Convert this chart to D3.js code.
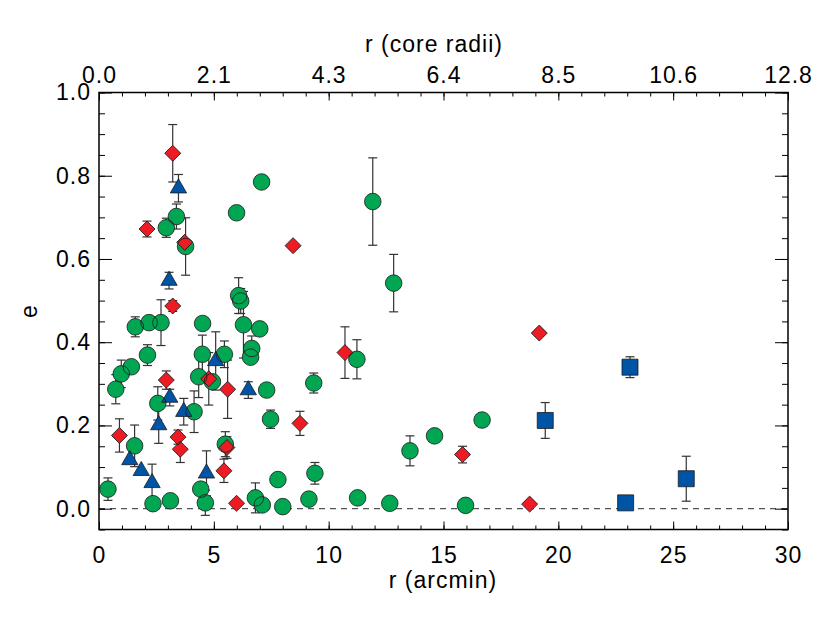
<!DOCTYPE html>
<html>
<head>
<meta charset="utf-8">
<script src="https://cdn.jsdelivr.net/npm/d3@7/dist/d3.min.js"></script>
<style>
  body { margin: 0; background: #fff; }
  svg text { font-family: "Liberation Sans", Arial, Helvetica, sans-serif; font-size: 23px; letter-spacing: 1px; fill: #000; }
</style>
</head>
<body>
<div id="chart"></div>
<script>
// [r (arcmin), e, error]
const circles = [
  [0.39, 0.047, 0.027], [0.73, 0.287, 0.035], [0.97, 0.324, 0.033], [1.41, 0.341, 0],
  [1.55, 0.151, 0.05], [1.58, 0.437, 0.024], [2.11, 0.369, 0.025], [2.18, 0.447, 0],
  [2.35, 0.012, 0], [2.56, 0.253, 0.04], [2.70, 0.447, 0.055], [2.93, 0.675, 0.023],
  [3.11, 0.019, 0], [3.37, 0.702, 0.03], [3.77, 0.630, 0.069], [4.14, 0.233, 0.05],
  [4.34, 0.317, 0.05], [4.43, 0.047, 0], [4.50, 0.371, 0.046], [4.51, 0.445, 0],
  [4.63, 0.014, 0.03], [4.94, 0.305, 0], [5.46, 0.371, 0.032], [5.50, 0.155, 0.03],
  [5.99, 0.711, 0.012], [6.08, 0.512, 0.043], [6.17, 0.499, 0.03], [6.29, 0.442, 0.08],
  [6.60, 0.364, 0], [6.65, 0.385, 0.03], [6.81, 0.026, 0.036], [7.00, 0.432, 0],
  [7.08, 0.785, 0], [7.11, 0.009, 0], [7.30, 0.285, 0], [7.47, 0.215, 0.022],
  [7.79, 0.070, 0], [8.00, 0.005, 0], [9.14, 0.023, 0], [9.35, 0.302, 0.024],
  [9.40, 0.085, 0.026], [11.23, 0.359, 0.047], [11.26, 0.026, 0], [11.92, 0.738, 0.105],
  [12.66, 0.013, 0], [12.83, 0.542, 0.069], [13.54, 0.139, 0.036], [14.61, 0.175, 0],
  [15.96, 0.008, 0], [16.68, 0.213, 0]
];
const diamonds = [
  [0.89, 0.176, 0.04], [2.09, 0.672, 0.019], [2.93, 0.309, 0.022], [3.21, 0.854, 0.069],
  [3.21, 0.487, 0.013], [3.44, 0.172, 0.017], [3.54, 0.143, 0.032], [3.73, 0.640, 0],
  [4.78, 0.312, 0.063], [5.44, 0.091, 0.028], [5.57, 0.147, 0.026], [5.60, 0.287, 0.07],
  [5.99, 0.013, 0], [8.45, 0.632, 0], [8.75, 0.205, 0.029], [10.71, 0.375, 0.062],
  [15.83, 0.130, 0.02], [18.75, 0.011, 0], [19.17, 0.422, 0.008]
];
const triangles = [
  [1.34, 0.117, 0], [1.84, 0.091, 0], [2.31, 0.062, 0.045], [2.60, 0.201, 0.044],
  [3.05, 0.548, 0.02], [3.08, 0.267, 0.02], [3.46, 0.770, 0.033], [3.69, 0.233, 0.032],
  [4.68, 0.085, 0.054], [5.08, 0.355, 0.07], [6.50, 0.285, 0.02]
];
const squares = [
  [19.43, 0.212, 0.043], [22.93, 0.014, 0], [23.12, 0.340, 0.025], [25.57, 0.072, 0.054]
];

const xTicks = [0, 5, 10, 15, 20, 25, 30];
const coreLabels = ["0.0", "2.1", "4.3", "6.4", "8.5", "10.6", "12.8"];
const yTicks = [0, 0.2, 0.4, 0.6, 0.8, 1.0];

const width = 830, height = 623;
const pLeft = 99, pRight = 788, pTop = 92.5, pBottom = 529.5;

let svg = d3.select("#chart").append("svg")
    .attr("width", width)
    .attr("height", height);

let x = d3.scaleLinear().domain([0, 30]).range([pLeft, pRight]);
let y = d3.scaleLinear().domain([-0.05, 1.0]).range([pBottom, pTop]);

// dashed zero line
svg.append("line")
    .attr("x1", x(0)).attr("x2", x(30))
    .attr("y1", y(0)).attr("y2", y(0))
    .attr("stroke", "#555").attr("stroke-width", 1.2)
    .attr("stroke-dasharray", "6,5");

// axes: minor ticks, then major ticks with labels
function styleAxis(g) {
    g.select(".domain").remove();
    g.selectAll("line").attr("stroke", "#000").attr("stroke-width", 1);
    g.selectAll("text").attr("font-size", 23).attr("font-family", null);
}
const minorX = d3.range(0, 31, 1);
const minorY = d3.range(-0.05, 1.001, 0.05);

svg.append("g").attr("transform", `translate(0,${pBottom})`)
    .call(d3.axisBottom(x).tickValues(minorX).tickSize(-4).tickFormat(""))
    .call(styleAxis);
svg.append("g").attr("transform", `translate(0,${pBottom})`)
    .call(d3.axisBottom(x).tickValues(xTicks).tickSize(-8).tickPadding(17).tickFormat(d3.format("d")))
    .call(styleAxis);
svg.append("g").attr("transform", `translate(0,${pTop})`)
    .call(d3.axisTop(x).tickValues(minorX).tickSize(-4).tickFormat(""))
    .call(styleAxis);
svg.append("g").attr("transform", `translate(0,${pTop})`)
    .call(d3.axisTop(x).tickValues(xTicks).tickSize(-8).tickPadding(10)
        .tickFormat((d, i) => coreLabels[i]))
    .call(styleAxis);
svg.append("g").attr("transform", `translate(${pLeft},0)`)
    .call(d3.axisLeft(y).tickValues(minorY).tickSize(-6).tickFormat(""))
    .call(styleAxis);
svg.append("g").attr("transform", `translate(${pLeft},0)`)
    .call(d3.axisLeft(y).tickValues(yTicks).tickSize(-13).tickPadding(8).tickFormat(d3.format(".1f")))
    .call(styleAxis);
svg.append("g").attr("transform", `translate(${pRight},0)`)
    .call(d3.axisRight(y).tickValues(minorY).tickSize(-6).tickFormat(""))
    .call(styleAxis);
svg.append("g").attr("transform", `translate(${pRight},0)`)
    .call(d3.axisRight(y).tickValues(yTicks).tickSize(-13).tickFormat(""))
    .call(styleAxis);

// frame
svg.append("rect")
    .attr("x", pLeft).attr("y", pTop)
    .attr("width", pRight - pLeft).attr("height", pBottom - pTop)
    .attr("fill", "none").attr("stroke", "#000").attr("stroke-width", 1.5);

// titles
svg.append("text").attr("x", 443).attr("y", 588).attr("text-anchor", "middle").text("r (arcmin)");
svg.append("text").attr("x", 434).attr("y", 52).attr("text-anchor", "middle").text("r (core radii)");
svg.append("text").attr("transform", "translate(37,311) rotate(-90)").attr("text-anchor", "middle").text("e");

const series = [
    { data: circles, fill: "#00a651", shape: d3.symbolCircle, size: 216 },
    { data: diamonds, fill: "#ed1c24", shape: d3.symbolSquare, size: 128, rot: 45 },
    { data: triangles, fill: "#0054a6", shape: d3.symbolTriangle, size: 115 },
    { data: squares, fill: "#0054a6", shape: d3.symbolSquare, size: 256 }
];

// error bars
let errs = svg.append("g").attr("stroke", "#333").attr("stroke-width", 1.2);
series.forEach(s => {
    s.data.filter(d => d[2] > 0).forEach(d => {
        let cx = x(d[0]), y1 = y(d[1] + d[2]), y2 = y(d[1] - d[2]);
        errs.append("line").attr("x1", cx).attr("x2", cx).attr("y1", y1).attr("y2", y2);
        errs.append("line").attr("x1", cx - 4.5).attr("x2", cx + 4.5).attr("y1", y1).attr("y2", y1);
        errs.append("line").attr("x1", cx - 4.5).attr("x2", cx + 4.5).attr("y1", y2).attr("y2", y2);
    });
});

// marker fills, then outlines on top
function pos(s) {
    return d => `translate(${x(d[0])},${y(d[1])})` + (s.rot ? ` rotate(${s.rot})` : "");
}
let fills = svg.append("g");
let outlines = svg.append("g");
series.forEach(s => {
    let sym = d3.symbol().type(s.shape).size(s.size);
    fills.selectAll(null).data(s.data).enter().append("path")
        .attr("d", sym).attr("transform", pos(s))
        .attr("fill", s.fill);
    outlines.selectAll(null).data(s.data).enter().append("path")
        .attr("d", sym).attr("transform", pos(s))
        .attr("fill", "none").attr("stroke", "#1a1a1a").attr("stroke-width", 0.8);
});
</script>
</body>
</html>
